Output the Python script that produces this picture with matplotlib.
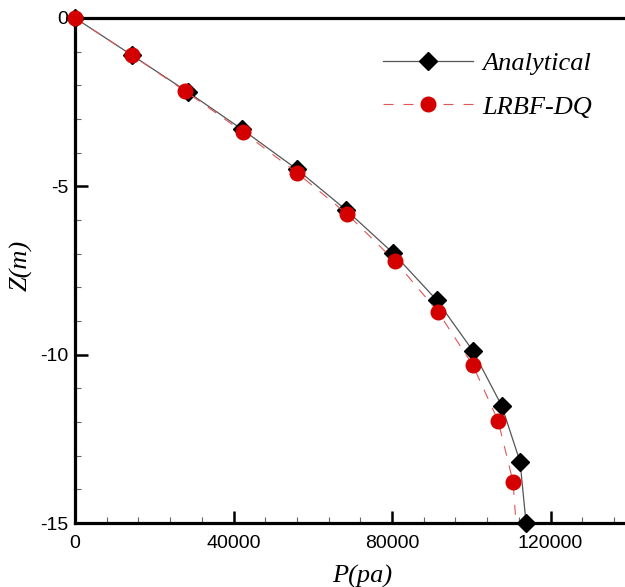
import matplotlib
matplotlib.use("Agg")
import matplotlib.pyplot as plt
from matplotlib.ticker import MultipleLocator

plt.rcParams["axes.unicode_minus"] = False

# Analytical pore-pressure profile (symbols at every point)
analytical_p = [0, 14300, 28500, 42070, 55960, 68400, 80260, 91290, 100450, 107700, 112320, 113830]
analytical_z = [0, -1.10, -2.20, -3.30, -4.49, -5.70, -6.98, -8.38, -9.89, -11.52, -13.18, -15.0]

# LRBF-DQ numerical profile (last point carries no symbol)
lrbf_p = [0, 14310, 27760, 42330, 56030, 68650, 80770, 91620, 100380, 106770, 110550, 111300]
lrbf_z = [0, -1.10, -2.17, -3.38, -4.60, -5.82, -7.22, -8.73, -10.31, -11.96, -13.78, -15.0]

x_ticks = [0, 40000, 80000, 120000]
y_ticks = [0, -5, -10, -15]

fig = plt.figure(figsize=(6.25, 5.87), dpi=100)
ax = fig.add_axes([75 / 625, 64 / 587, 554.75 / 625, 505 / 587])

ax.plot(analytical_p, analytical_z, color="#555555", lw=0.9,
        marker="D", ms=9.5, mfc="black", mec="black",
        label="Analytical", zorder=3, clip_on=False)
ax.plot(lrbf_p, lrbf_z, color="#e05555", lw=0.8, dashes=(9, 9),
        marker="o", ms=10.5, mfc="#d40000", mec="#d40000",
        markevery=list(range(len(lrbf_p) - 1)),
        label="LRBF-DQ", zorder=4, clip_on=False)

ax.set_xlim(0, 140000)
ax.set_ylim(-15, 0)
ax.set_xticks(x_ticks)
ax.set_xticklabels([str(v) for v in x_ticks])
ax.set_yticks(y_ticks)
ax.set_yticklabels([str(v) for v in y_ticks])
ax.xaxis.set_minor_locator(MultipleLocator(8000))
ax.yaxis.set_minor_locator(MultipleLocator(1))

for lab in ax.get_xticklabels() + ax.get_yticklabels():
    lab.set_fontfamily("Liberation Sans")
    lab.set_fontsize(14)

ax.tick_params(which="major", direction="in", length=9, width=1.8,
               color="black", top=False, right=False, pad=5)
ax.tick_params(axis="x", which="major", pad=9)
ax.tick_params(which="minor", direction="in", length=4.5, width=0.8,
               color="#666666", top=False, right=False)

for side in ["left", "bottom", "top", "right"]:
    ax.spines[side].set_linewidth(2.3)
    ax.spines[side].set_color("black")

label_font = dict(family="Liberation Serif", style="italic", size=19)
ax.set_xlabel("P(pa)", **label_font)
ax.set_ylabel("Z(m)", **label_font)
ax.xaxis.set_label_coords(0.517, -0.082)
ax.yaxis.set_label_coords(-0.076, 0.511)

leg = ax.legend(loc="upper left", bbox_to_anchor=(0.513, 0.98),
                frameon=False, numpoints=1, handlelength=3.4,
                handletextpad=0.35, labelspacing=0.75,
                prop={"family": "Liberation Serif", "style": "italic", "size": 19})

fig.savefig("out.png", dpi=100)
